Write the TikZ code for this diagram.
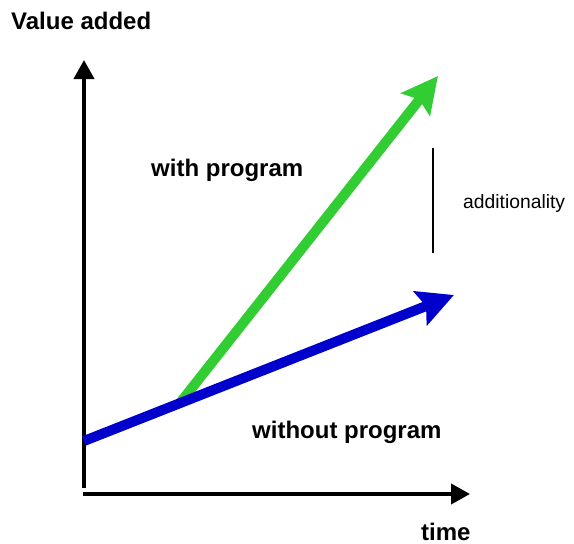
\documentclass[tikz,border=0pt]{standalone}
\usepackage{fontspec}
\setmainfont{Liberation Sans}
\usetikzlibrary{arrows.meta}
\definecolor{progGreen}{RGB}{50,205,50}
\definecolor{baseBlue}{RGB}{0,0,205}
\begin{document}
\begin{tikzpicture}[x=1pt,y=-1pt,
  axis/.style={line width=4pt,-{Triangle[length=19pt,width=20pt]}},
  trend/.style={line width=10pt,-{Stealth[length=36pt,width=36pt,inset=6pt]}},
  boldlabel/.style={anchor=base west,inner sep=0pt,font=\fontsize{24}{28}\selectfont\bfseries},
  plainlabel/.style={anchor=base west,inner sep=0pt,font=\fontsize{19.3}{23}\selectfont}]
  \useasboundingbox (0,0) rectangle (574,544);

  % axes
  \coordinate (yb) at (84,488);
  \coordinate (yt) at (84,60);
  \coordinate (xl) at (83,494);
  \coordinate (xr) at (470,494);
  \draw[axis] (yb) -- (yt);
  \draw[axis] (xl) -- (xr);

  % growth paths
  \coordinate (gs) at (180,403);
  \coordinate (ge) at (438,76);
  \coordinate (bs) at (84,441);
  \coordinate (be) at (454,295);
  \draw[trend,progGreen] (gs) -- (ge);
  \draw[trend,baseBlue] (bs) -- (be);

  % gap marker
  \coordinate (at) at (433,148);
  \coordinate (ab) at (433,253);
  \draw[line width=1.5pt] (at) -- (ab);

  % labels
  \node[boldlabel] (ylab) at (11,29) {Value added};
  \node[boldlabel] (xlab) at (421,540) {time};
  \node[boldlabel] (with) at (151,176) {with program};
  \node[boldlabel] (without) at (252,438) {without program};
  \node[plainlabel] (add) at (463,208) {additionality};
\end{tikzpicture}
\end{document}
